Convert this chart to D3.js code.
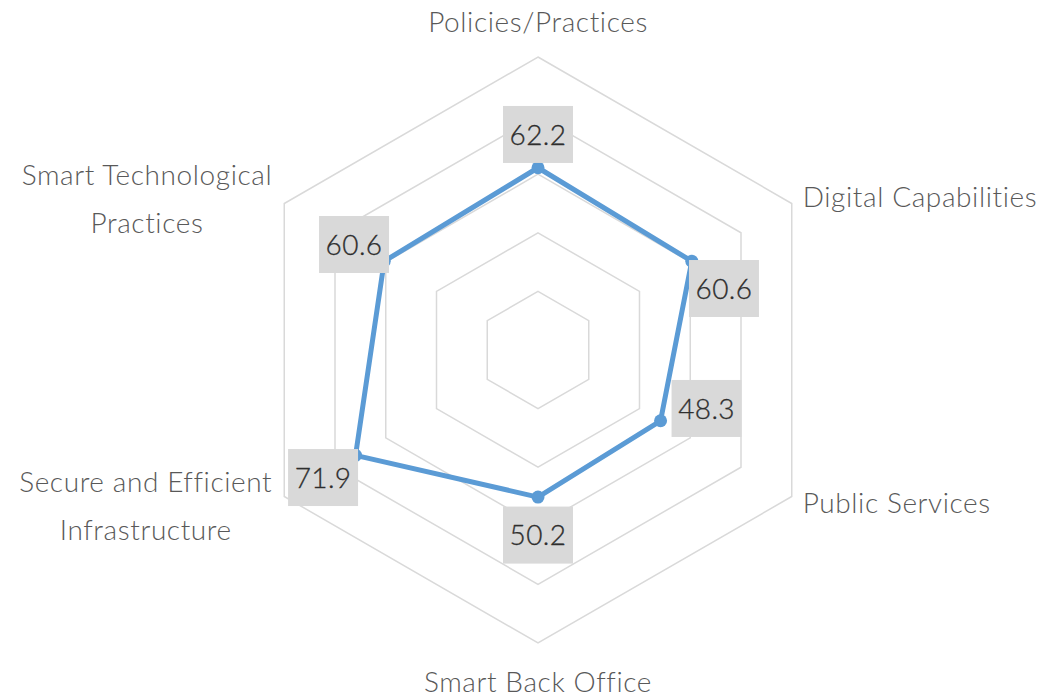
<!DOCTYPE html>
<html><head><meta charset="utf-8">
<script src="https://cdn.jsdelivr.net/npm/d3@7"></script>
<style>body{margin:0;background:#fff} text{font-family:Lato,"Open Sans",sans-serif;font-weight:300}</style>
</head><body><svg id="c" width="1042" height="700"></svg>
<script>
const categories = ["Policies/Practices","Digital Capabilities","Public Services","Smart Back Office","Secure and Efficient Infrastructure","Smart Technological Practices"];
const categoryLines = [["Policies/Practices"],["Digital Capabilities"],["Public Services"],["Smart Back Office"],["Secure and Efficient","Infrastructure"],["Smart Technological","Practices"]];
const values = [62.2,60.6,48.3,50.2,71.9,60.6];
const ringTicks = [20,40,60,80,100];

// layout (not data)
const cx = 538, cy = 350, R = 293;
const labelBoxOffsets = [[0,-33.3],[32.2,27.3],[46,-12.3],[0,38],[-32.5,22.2],[-30.2,-16.7]];
const catLabelPos = [
  {anchor:"middle", dx:0, dy:-25},
  {anchor:"start", dx:11, dy:3.5},
  {anchor:"start", dx:11, dy:16.5},
  {anchor:"middle", dx:0, dy:49},
  {anchor:"end", dx:-12, dy:-4.5},
  {anchor:"end", dx:-12, dy:-18.5}
];

const svg = d3.select("#c");
const g = svg.append("g").attr("transform",`translate(${cx},${cy})`);
const r = d3.scaleLinear().domain([0,100]).range([0,R]);
const ang = d3.scaleLinear().domain([0,categories.length]).range([0,2*Math.PI]);
const px = (i,v)=> r(v)*Math.sin(ang(i));
const py = (i,v)=> -r(v)*Math.cos(ang(i));

const ringLine = d3.lineRadial().curve(d3.curveLinearClosed);
g.selectAll("path.ring").data(ringTicks).join("path")
  .attr("class","ring")
  .attr("d", t => ringLine(categories.map((c,i)=>[ang(i), r(t)])))
  .attr("fill","none").attr("stroke","#d9d9d9").attr("stroke-width",1.5);

g.append("path")
  .attr("d", ringLine(values.map((v,i)=>[ang(i), r(v)])))
  .attr("fill","none").attr("stroke","#5b9bd5").attr("stroke-width",5).attr("stroke-linejoin","round");

g.selectAll("circle.pt").data(values).join("circle")
  .attr("class","pt")
  .attr("cx",(v,i)=>px(i,v)).attr("cy",(v,i)=>py(i,v)).attr("r",6.5)
  .attr("fill","#5b9bd5");

// data labels
const bw = 70, bh = 57;
const lbl = g.selectAll("g.dl").data(values).join("g").attr("class","dl")
  .attr("transform",(v,i)=>`translate(${px(i,v)+labelBoxOffsets[i][0]},${py(i,v)+labelBoxOffsets[i][1]})`);
lbl.append("rect").attr("x",-bw/2).attr("y",-bh/2).attr("width",bw).attr("height",bh).attr("fill","#d9d9d9");
lbl.append("text").attr("text-anchor","middle").attr("dy","0.36em")
  .attr("font-size",28).style("font-weight",300).attr("letter-spacing",0.4).attr("fill","#2e2e2e").attr("stroke","#2e2e2e").attr("stroke-width",0.3)
  .text(v=>d3.format(".1f")(v));

// category labels
categoryLines.forEach((lines,i)=>{
  const vx = px(i,100), vy = py(i,100);
  const p = catLabelPos[i];
  const t = g.append("text").attr("font-size",28).attr("letter-spacing",0.6).attr("fill","#595959");
  const spans = lines.map((l,k)=> t.append("tspan").attr("y", vy+p.dy+k*48).text(l));
  if (lines.length>1){
    const widths = spans.map(s=>s.node().getComputedTextLength());
    const mw = d3.max(widths);
    const center = vx + p.dx - mw/2;
    t.attr("text-anchor","middle");
    spans.forEach(s=>s.attr("x",center));
  } else {
    t.attr("text-anchor",p.anchor);
    spans.forEach(s=>s.attr("x",vx+p.dx));
  }
});
</script></body></html>
